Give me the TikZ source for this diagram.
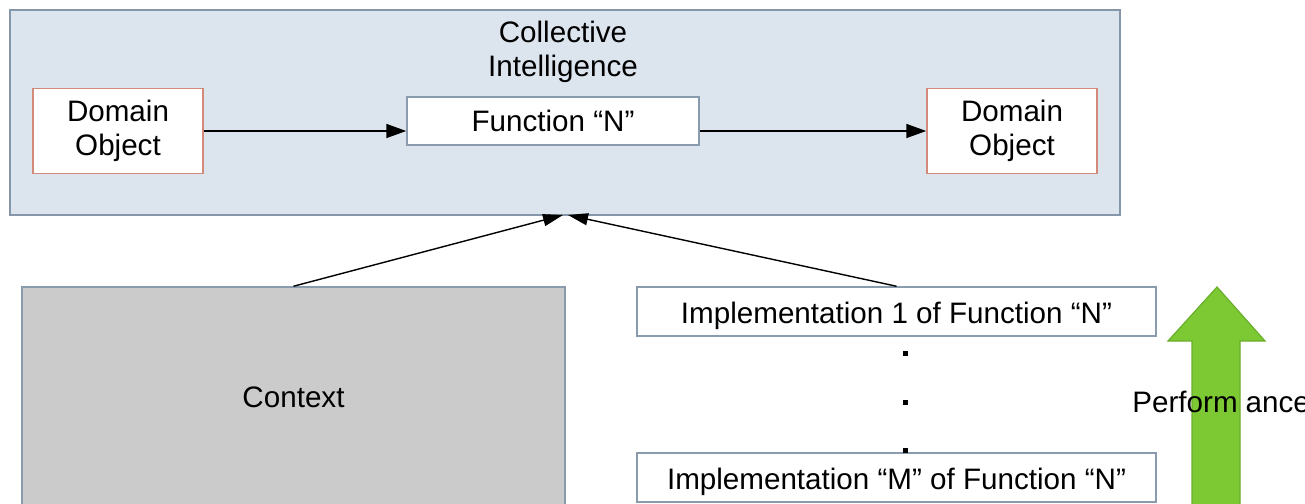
\documentclass[tikz,border=0pt]{standalone}
\usepackage{fontspec}
\setmainfont{Liberation Sans}
\usetikzlibrary{arrows.meta}

\definecolor{panelfill}{HTML}{DCE4EE}
\definecolor{panelline}{HTML}{8496A8}
\definecolor{objline}{HTML}{D48A7A}
\definecolor{boxline}{HTML}{8A9BAE}
\definecolor{ctxfill}{HTML}{CBCBCB}
\definecolor{perfgreen}{HTML}{7CC934}
\definecolor{perfline}{HTML}{6AAE2C}

\tikzset{
  lbl/.style={font=\fontsize{14.8}{17}\selectfont, text=black, align=center},
  panel/.style={draw=panelline, fill=panelfill, line width=0.75pt, minimum width=555pt, minimum height=102.5pt},
  objbox/.style={lbl, draw=objline, fill=white, line width=0.75pt, minimum width=85pt, minimum height=42.5pt, inner sep=0pt},
  funcbox/.style={lbl, draw=boxline, fill=white, line width=0.75pt, minimum width=146pt, minimum height=24pt, inner sep=0pt},
  implbox/.style={lbl, text height=14.6pt, text depth=3.1pt, draw=boxline, fill=white, line width=0.75pt, minimum width=259.5pt, minimum height=24.5pt, inner sep=0pt},
  ctxbox/.style={lbl, draw=boxline, fill=ctxfill, line width=0.75pt, minimum width=271.5pt, minimum height=110pt, inner sep=0pt},
  flow/.style={draw=black, line width=0.85pt, -{Triangle[length=10pt,width=7pt]}},
  feed/.style={draw=black, line width=0.7pt, -{Triangle[length=10pt,width=6pt]}},
  dot/.style={fill=black, minimum size=2.5pt, inner sep=0pt, draw=none}
}

\begin{document}
\begin{tikzpicture}[x=0.5pt, y=-0.5pt]
  \useasboundingbox (0,0) rectangle (1305,503);
  \fill[white] (0,0) rectangle (1305,503);

  % Collective intelligence panel
  \node[panel] (ci) at (565,112.5) {};
  \node[lbl] (citxt) at (563,52) {Collective\\Intelligence};
  \node[objbox] (dol) at (118,131) {Domain\\Object};
  \node[funcbox] (fn) at (553,121) {Function “N”};
  \node[objbox] (dor) at (1012,131) {Domain\\Object};

  \draw[flow] (dol.east) -- (dol.east -| fn.west);
  \draw[flow] (dol.east -| fn.east) -- (dor.west);

  % Context and implementations
  \node[ctxbox] (ctx) at (293.5,397) {Context};
  \node[implbox] (im1) at (896.5,311.5) {Implementation 1 of Function “N”};
  \node[implbox] (imm) at (896.5,477.5) {Implementation “M” of Function “N”};

  \node[dot] (d1) at (905,353) {};
  \node[dot] (d2) at (905,402) {};
  \node[dot] (d3) at (905,450) {};

  \coordinate (tipl) at (563,215);
  \coordinate (tipr) at (568,215);
  \draw[feed] (ctx.north) -- (tipl);
  \draw[feed] (im1.north) -- (tipr);

  % Performance arrow
  \draw[fill=perfgreen, draw=perfline, line width=0.6pt]
    (1217,287) -- (1265,341) -- (1240,341) -- (1240,520) -- (1192,520)
    -- (1192,341) -- (1168,341) -- cycle;
  \node[lbl, anchor=west, inner sep=0pt] (perf) at (1132,402) {Perform\kern4pt ance};
\end{tikzpicture}
\end{document}
